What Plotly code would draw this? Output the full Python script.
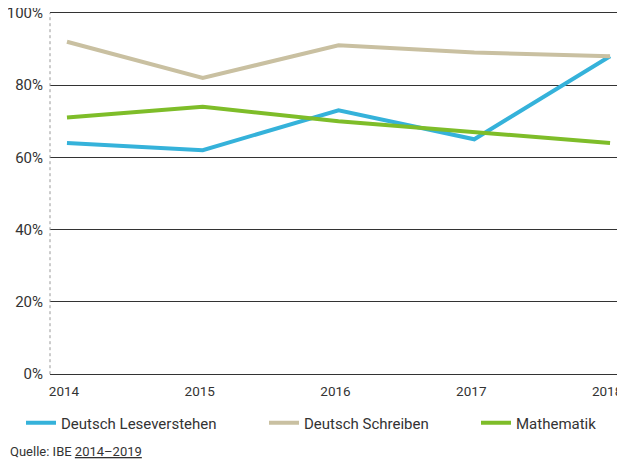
import plotly.graph_objects as go

years = ["2014", "2015", "2016", "2017", "2018"]
lese = [64, 62, 73, 65, 88]
schreiben = [92, 82, 91, 89, 88]
mathe = [71, 74, 70, 67, 64]
y_ticks = [0, 20, 40, 60, 80, 100]
y_labels = ["0%", "20%", "40%", "60%", "80%", "100%"]

series = [
    ("Deutsch Leseverstehen", lese, "#35b2da", "legend"),
    ("Deutsch Schreiben", schreiben, "#c9c0a1", "legend2"),
    ("Mathematik", mathe, "#7ebd29", "legend3"),
]

W, H = 617, 454  # page body has an 8px margin

fig = go.Figure()
for name, vals, color, leg in series:
    fig.add_trace(go.Scatter(x=list(range(len(years))), y=vals, mode="lines", name=name,
                             line=dict(color=color, width=4), legend=leg))

# dotted left axis line
fig.add_shape(type="line", xref="paper", yref="y", x0=0, x1=0, y0=0, y1=100,
              line=dict(color="#999999", width=1, dash="dot"))

fig.add_annotation(text="Quelle: IBE <u>2014–2019</u>", xref="paper", yref="paper",
                   x=-0.073, y=-0.208, xanchor="left", yanchor="middle", showarrow=False,
                   font=dict(size=13, color="#333333"))

leg_common = dict(orientation="h", xref="container", yref="container", xanchor="left",
                  y=0.086, yanchor="middle", font=dict(size=15), bgcolor="rgba(0,0,0,0)")

fig.update_layout(
    width=W, height=H,
    margin=dict(l=42, r=0, t=3, b=86),
    paper_bgcolor="white", plot_bgcolor="white",
    font=dict(family="Roboto", color="#333333", size=14),
    showlegend=True,
    legend=dict(x=13 / W, **leg_common),
    legend2=dict(x=256 / W, **leg_common),
    legend3=dict(x=468 / W, **leg_common),
    xaxis=dict(tickmode="array", tickvals=list(range(len(years))), ticktext=years,
               range=[-0.125, 4.11], showgrid=False, zeroline=False, showline=False,
               ticks="", ticklabeloverflow="allow", automargin=False,
               tickfont=dict(size=13.5), ticklabelstandoff=5, ticklabelshift=-3),
    yaxis=dict(range=[-0.5, 100.5], tickvals=y_ticks, ticktext=y_labels, showgrid=True,
               gridcolor="#333333", gridwidth=1, zeroline=False, showline=False,
               ticks="", tickfont=dict(size=15), automargin=False,
               ticklabeloverflow="allow", ticklabelstandoff=6),
)

fig.write_html("out.html")
